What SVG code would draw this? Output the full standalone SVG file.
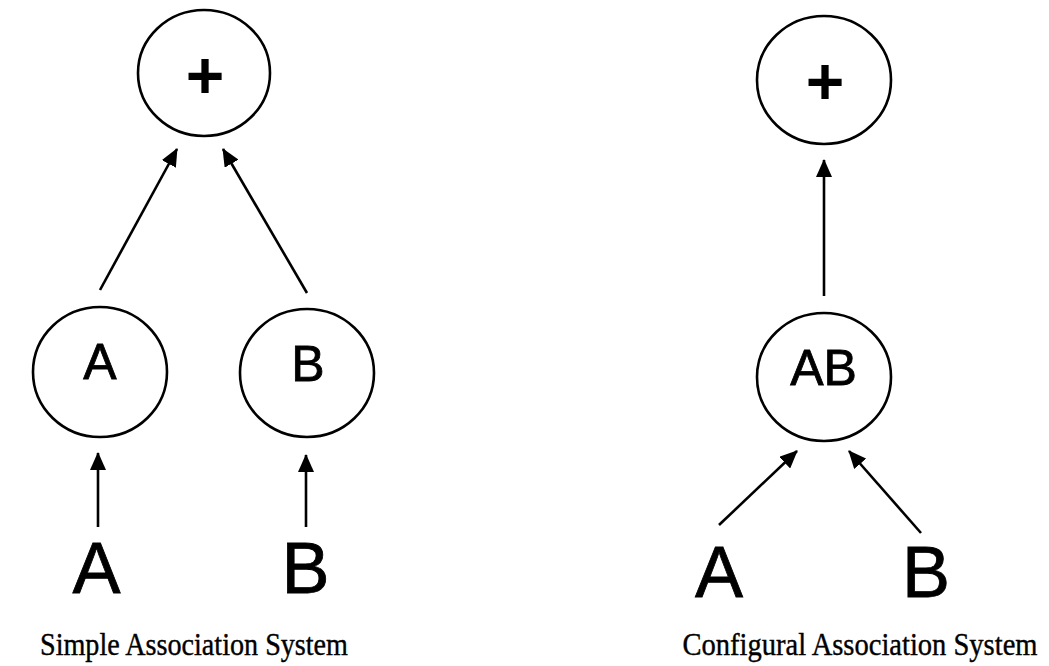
<svg xmlns="http://www.w3.org/2000/svg" width="1049" height="666" viewBox="0 0 1049 666">
<defs>
<style>
.node{fill:#fff;stroke:#000;stroke-width:2.6}
.lbl{font-family:"Liberation Sans",Arial,sans-serif;fill:#000;text-anchor:middle;stroke:#000;stroke-width:0.8}
.plus{font-family:"Liberation Sans",Arial,sans-serif;font-weight:bold;fill:#000;text-anchor:middle;font-size:66px}
.in{font-size:50px}
.big{font-size:72px}
.cap{font-family:"Liberation Serif","Times New Roman",serif;font-size:32px;fill:#000;stroke:#000;stroke-width:0.4}
.edge{stroke:#000;stroke-width:2.6;fill:none;marker-end:url(#ah)}
</style>
<marker id="ah" markerUnits="userSpaceOnUse" markerWidth="18" markerHeight="16" viewBox="0 0 18 16" refX="17" refY="8" orient="auto">
<path d="M0,0 L18,8 L0,16 Z" fill="#000"/>
</marker>
</defs>
<rect width="1049" height="666" fill="#fff"/>
<g id="connectors">
<line class="edge" x1="100" y1="290" x2="177" y2="149"/>
<line class="edge" x1="307" y1="293" x2="223" y2="149"/>
<line class="edge" x1="98" y1="527" x2="98" y2="453"/>
<line class="edge" x1="306" y1="527" x2="306" y2="455"/>
<line class="edge" x1="824" y1="296" x2="824" y2="160"/>
<line class="edge" x1="719" y1="525" x2="797" y2="451"/>
<line class="edge" x1="921" y1="533" x2="849" y2="451"/>
</g>
<g id="node-plus-left">
<ellipse class="node" cx="204" cy="73" rx="66" ry="63"/>
<text class="plus" x="205" y="98">+</text>
</g>
<g id="node-A">
<ellipse class="node" cx="100" cy="372" rx="67" ry="65"/>
<text class="lbl in" x="100" y="379">A</text>
</g>
<g id="node-B">
<ellipse class="node" cx="307" cy="373" rx="67" ry="64"/>
<text class="lbl in" x="308" y="381">B</text>
</g>
<g id="input-A-left"><text class="lbl big" x="96.5" y="593">A</text></g>
<g id="input-B-left"><text class="lbl big" x="305.5" y="593">B</text></g>
<g id="node-plus-right">
<ellipse class="node" cx="824" cy="80" rx="67" ry="64"/>
<text class="plus" x="825" y="104">+</text>
</g>
<g id="node-AB">
<ellipse class="node" cx="824" cy="377" rx="67" ry="64"/>
<text class="lbl in" x="823.5" y="385">AB</text>
</g>
<g id="input-A-right"><text class="lbl big" x="719" y="597">A</text></g>
<g id="input-B-right"><text class="lbl big" x="926" y="597">B</text></g>
<text class="cap" x="194" y="655" text-anchor="middle" textLength="308" lengthAdjust="spacingAndGlyphs">Simple Association System</text>
<text class="cap" x="860" y="655" text-anchor="middle" textLength="355" lengthAdjust="spacingAndGlyphs">Configural Association System</text>
</svg>
